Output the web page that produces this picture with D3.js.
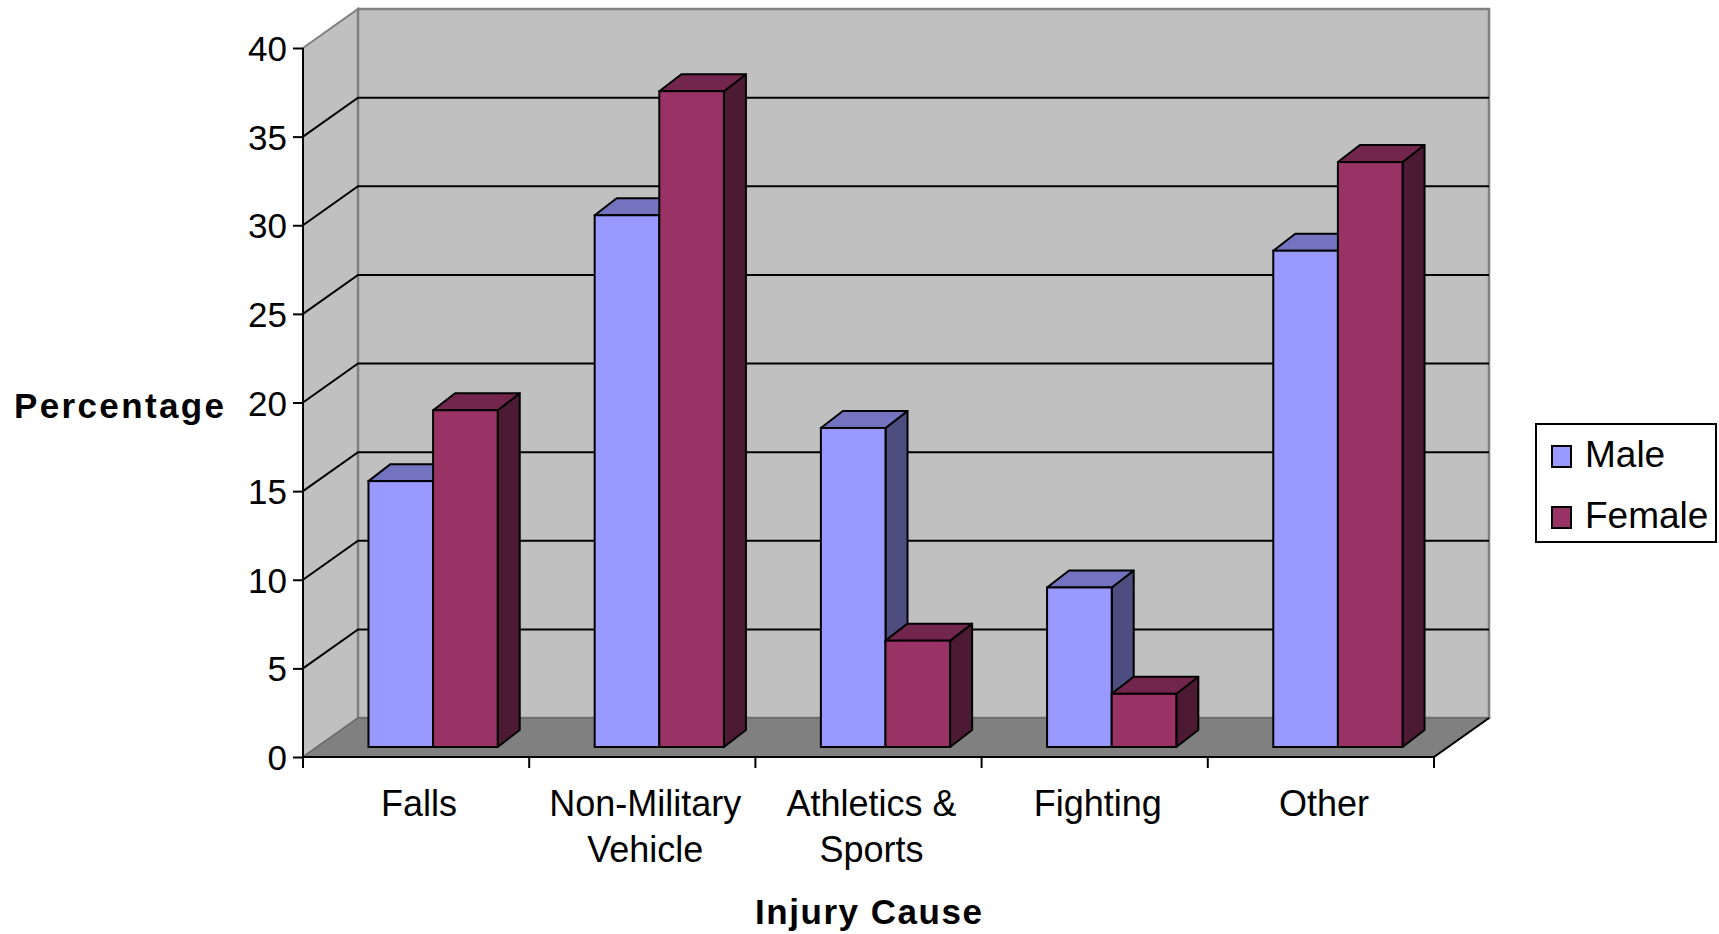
<!DOCTYPE html>
<html>
<head>
<meta charset="utf-8">
<script src="https://cdn.jsdelivr.net/npm/d3@7"></script>
<style>
  html, body { margin: 0; padding: 0; background: #ffffff; }
  svg text { font-family: "Liberation Sans", Arial, sans-serif; fill: #000; }
</style>
</head>
<body>
<script>
// Injury cause by sex (percent)
const categories = ["Falls", "Non-Military\nVehicle", "Athletics &\nSports", "Fighting", "Other"];
const series = ["Male", "Female"];
const maleValues = [15, 30, 18, 9, 28];
const femaleValues = [19, 37, 6, 3, 33];
const yTicks = [0, 5, 10, 15, 20, 25, 30, 35, 40];

const seriesValues = { Male: maleValues, Female: femaleValues };
const faceColors = {
  Male:   { front: "#9999FF", top: "#7373C0", side: "#4D4D80" },
  Female: { front: "#993366", top: "#73264D", side: "#4D1A33" }
};

const W = 1719, H = 934;
const svg = d3.select("body").append("svg").attr("width", W).attr("height", H);

// front plane scales
const x = d3.scaleBand().domain(categories).range([303, 1434]);
const xs = d3.scaleBand().domain(series).range([0, x.bandwidth()]).paddingInner(0).paddingOuter(0.75);
const y = d3.scaleLinear().domain([0, 40]).range([757, 48]);

// oblique depth offsets: walls, bar front plane, bar depth
const DX = 55, DY = -39;
const BX = 17, BY = -10;
const BDX = 22, BDY = -17;

const x0 = x.range()[0], x1 = x.range()[1];
const yMax = y(40), yMin = y(0);
const poly = pts => pts.map(p => p.join(",")).join(" ");

// left side wall
svg.append("polygon")
  .attr("points", poly([[x0, yMax], [x0 + DX, yMax + DY], [x0 + DX, yMin + DY], [x0, yMin]]))
  .attr("fill", "#C0C0C0").attr("stroke", "#808080").attr("stroke-width", 2);

// back wall
svg.append("rect")
  .attr("x", x0 + DX).attr("y", yMax + DY)
  .attr("width", x1 - x0).attr("height", yMin - yMax)
  .attr("fill", "#C0C0C0").attr("stroke", "#808080").attr("stroke-width", 2.5);

// floor
svg.append("polygon")
  .attr("points", poly([[x0, yMin], [x1, yMin], [x1 + DX, yMin + DY], [x0 + DX, yMin + DY]]))
  .attr("fill", "#808080").attr("stroke", "#6a6a6a").attr("stroke-width", 1.5);
svg.append("line")
  .attr("x1", x1).attr("y1", yMin).attr("x2", x1 + DX).attr("y2", yMin + DY)
  .attr("stroke", "#000").attr("stroke-width", 2);

// gridlines across side wall and back wall
svg.append("g").selectAll("polyline")
  .data(yTicks.filter(v => v > 0 && v < 40))
  .join("polyline")
  .attr("points", v => poly([[x0, y(v)], [x0 + DX, y(v) + DY], [x1 + DX, y(v) + DY]]))
  .attr("fill", "none").attr("stroke", "#000").attr("stroke-width", 2);

// bars as boxes
const bars = [];
categories.forEach((c, i) => {
  series.forEach(s => bars.push({ c, s, v: seriesValues[s][i] }));
});

const barG = svg.append("g");
bars.forEach(d => {
  const bx0 = x(d.c) + xs(d.s) + BX;
  const bx1 = bx0 + xs.bandwidth();
  const yt = y(d.v) + BY;
  const yb = y(0) + BY;
  const col = faceColors[d.s];
  const g = barG.append("g");
  g.append("polygon")
    .attr("points", poly([[bx1, yt], [bx1 + BDX, yt + BDY], [bx1 + BDX, yb + BDY], [bx1, yb]]))
    .attr("fill", col.side).attr("stroke", "#000").attr("stroke-width", 2).attr("stroke-linejoin", "round");
  g.append("polygon")
    .attr("points", poly([[bx0, yt], [bx0 + BDX, yt + BDY], [bx1 + BDX, yt + BDY], [bx1, yt]]))
    .attr("fill", col.top).attr("stroke", "#000").attr("stroke-width", 2).attr("stroke-linejoin", "round");
  g.append("rect")
    .attr("x", bx0).attr("y", yt).attr("width", bx1 - bx0).attr("height", yb - yt)
    .attr("fill", col.front).attr("stroke", "#000").attr("stroke-width", 2);
});

// value axis
const yAxis = d3.axisLeft(y).tickValues(yTicks).tickSize(10).tickSizeOuter(0).tickPadding(6);
const yG = svg.append("g").attr("transform", `translate(${x0},0)`).call(yAxis);
yG.select(".domain").remove();
yG.selectAll(".tick line").attr("stroke", "#000").attr("stroke-width", 2);
yG.selectAll(".tick text")
  .attr("font-size", 35).attr("font-family", "Liberation Sans, Arial, sans-serif")
  .attr("fill", "#000").attr("dy", "0.36em");
svg.append("line")
  .attr("x1", x0).attr("y1", yMax).attr("x2", x0).attr("y2", yMin + 11)
  .attr("stroke", "#000").attr("stroke-width", 2);

// category axis
svg.append("line")
  .attr("x1", x0).attr("y1", yMin).attr("x2", x1).attr("y2", yMin)
  .attr("stroke", "#000").attr("stroke-width", 2);
const boundaries = categories.map(c => x(c)).concat([x1]);
svg.append("g").selectAll("line").data(boundaries).join("line")
  .attr("x1", d => d).attr("x2", d => d)
  .attr("y1", yMin).attr("y2", yMin + 11)
  .attr("stroke", "#000").attr("stroke-width", 2);

const labelX = d => x(d) + x.bandwidth() / 2 + 3;
const catText = svg.append("g").selectAll("text").data(categories).join("text")
  .attr("x", labelX)
  .attr("y", 816)
  .attr("text-anchor", "middle")
  .attr("font-size", 36);
catText.each(function (d) {
  const t = d3.select(this);
  d.split("\n").forEach((line, k) => {
    t.append("tspan").attr("x", labelX(d)).attr("dy", k === 0 ? 0 : 46).text(line);
  });
});

// axis titles
svg.append("text")
  .attr("x", (x0 + x1) / 2).attr("y", 924)
  .attr("text-anchor", "middle")
  .attr("font-size", 35).attr("font-weight", "bold")
  .attr("textLength", 227).attr("lengthAdjust", "spacing")
  .text("Injury Cause");

svg.append("text")
  .attr("x", 14).attr("y", 418)
  .attr("font-size", 35).attr("font-weight", "bold")
  .attr("textLength", 210).attr("lengthAdjust", "spacing")
  .text("Percentage");

// legend
const legend = svg.append("g");
legend.append("rect")
  .attr("x", 1536).attr("y", 424).attr("width", 180).attr("height", 118)
  .attr("fill", "#fff").attr("stroke", "#000").attr("stroke-width", 2);
series.forEach((s, k) => {
  const ly = 457 + k * 61;
  legend.append("rect")
    .attr("x", 1552).attr("y", ly - 11).attr("width", 19).attr("height", 21)
    .attr("fill", faceColors[s].front).attr("stroke", "#000").attr("stroke-width", 2);
  legend.append("text")
    .attr("x", 1585).attr("y", ly + 10)
    .attr("font-size", 37)
    .text(s);
});
</script>
</body>
</html>
